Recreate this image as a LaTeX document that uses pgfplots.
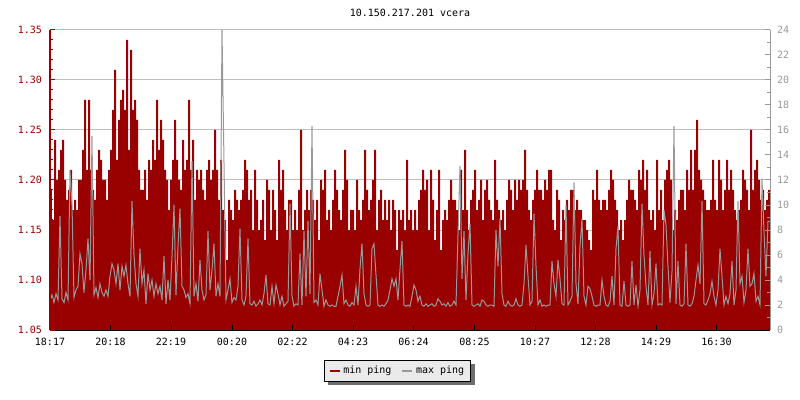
\documentclass[border=0pt]{standalone}
\usepackage{fontspec}
\setmainfont{DejaVu Sans Mono}
\setmonofont{DejaVu Sans Mono}
\usepackage{pgfplots}
\usepackage{pgfplotstable}
\pgfplotsset{compat=1.18}

\definecolor{pingred}{RGB}{153,0,0}
\definecolor{pinggray}{RGB}{153,153,153}
\definecolor{gridgray}{RGB}{190,190,190}
\definecolor{legfill}{RGB}{234,234,234}
\definecolor{shadowgray}{RGB}{110,110,110}

\pgfdeclarelayer{bg}
\pgfsetlayers{bg,main}

% one row every 4 minutes from 18:17, min ping (left scale) and max ping (right scale)
\pgfplotstableread[row sep=\\]{
minp maxp\\
1.19 2.3\\ 1.16 2.8\\ 1.24 2.2\\ 1.20 2.9\\ 1.21 2.4\\ 1.23 9.1\\ 1.24 2.5\\ 1.20 2.2\\ 1.18 3.0\\ 1.19 2.4\\
1.21 12.8\\ 1.17 10.0\\ 1.18 2.6\\ 1.17 3.2\\ 1.20 3.5\\ 1.20 6.1\\ 1.23 5.3\\ 1.28 3.0\\ 1.21 4.8\\ 1.28 7.3\\
1.21 4.0\\ 1.19 15.5\\ 1.18 2.8\\ 1.21 3.4\\ 1.23 2.6\\ 1.22 3.7\\ 1.20 3.0\\ 1.20 2.7\\ 1.18 3.2\\ 1.21 2.7\\
1.23 4.3\\ 1.27 5.3\\ 1.31 4.8\\ 1.22 3.7\\ 1.26 5.3\\ 1.28 3.2\\ 1.29 5.1\\ 1.27 4.3\\ 1.34 5.2\\ 1.23 3.7\\
1.33 2.7\\ 1.27 10.3\\ 1.28 6.0\\ 1.26 3.7\\ 1.21 2.7\\ 1.19 6.5\\ 1.19 3.7\\ 1.21 4.8\\ 1.18 2.1\\ 1.22 4.5\\
1.21 3.2\\ 1.24 4.0\\ 1.22 2.7\\ 1.28 3.7\\ 1.23 2.9\\ 1.26 3.5\\ 1.24 2.4\\ 1.21 5.9\\ 1.20 2.1\\ 1.17 4.0\\
1.20 2.4\\ 1.22 5.9\\ 1.26 10.0\\ 1.22 2.8\\ 1.20 6.7\\ 1.19 9.7\\ 1.24 3.5\\ 1.21 3.2\\ 1.22 2.6\\ 1.28 2.9\\
1.21 2.1\\ 1.24 13.5\\ 1.18 2.7\\ 1.21 3.7\\ 1.20 2.3\\ 1.21 5.6\\ 1.19 3.2\\ 1.18 2.4\\ 1.21 2.8\\ 1.22 7.9\\
1.20 3.2\\ 1.21 4.8\\ 1.25 6.9\\ 1.21 2.7\\ 1.18 3.7\\ 1.22 2.7\\ 1.17 24.0\\ 1.16 13.4\\ 1.12 2.4\\ 1.18 3.2\\
1.17 4.1\\ 1.16 2.2\\ 1.19 2.6\\ 1.18 2.4\\ 1.17 3.5\\ 1.18 8.1\\ 1.19 2.4\\ 1.22 2.0\\ 1.21 2.7\\ 1.18 7.3\\
1.19 2.1\\ 1.15 2.0\\ 1.21 2.3\\ 1.18 1.9\\ 1.15 2.1\\ 1.16 2.4\\ 1.18 2.0\\ 1.14 2.9\\ 1.20 4.4\\ 1.19 2.1\\
1.15 2.0\\ 1.19 3.5\\ 1.17 2.1\\ 1.14 3.6\\ 1.22 2.9\\ 1.19 2.0\\ 1.21 2.7\\ 1.17 1.9\\ 1.15 2.1\\ 1.18 2.3\\
1.18 10.1\\ 1.15 2.7\\ 1.17 1.9\\ 1.15 2.1\\ 1.19 2.0\\ 1.25 6.1\\ 1.15 2.0\\ 1.17 7.9\\ 1.19 2.7\\ 1.17 8.7\\
1.19 2.9\\ 1.18 16.3\\ 1.16 2.2\\ 1.18 2.4\\ 1.14 2.0\\ 1.20 4.5\\ 1.19 3.2\\ 1.21 1.9\\ 1.16 2.4\\ 1.17 2.0\\
1.15 1.9\\ 1.18 2.0\\ 1.21 1.9\\ 1.19 1.9\\ 1.17 2.7\\ 1.16 3.5\\ 1.19 4.4\\ 1.23 2.1\\ 1.20 2.4\\ 1.15 2.0\\
1.17 1.9\\ 1.17 2.2\\ 1.15 2.0\\ 1.20 3.5\\ 1.17 2.0\\ 1.16 4.9\\ 1.18 6.9\\ 1.23 2.9\\ 1.19 2.0\\ 1.17 1.9\\
1.18 2.0\\ 1.20 6.5\\ 1.23 6.9\\ 1.15 4.4\\ 1.18 2.0\\ 1.19 1.9\\ 1.16 2.0\\ 1.18 1.9\\ 1.16 2.1\\ 1.18 2.4\\
1.15 3.2\\ 1.18 4.1\\ 1.17 3.5\\ 1.13 4.1\\ 1.17 2.4\\ 1.16 4.9\\ 1.17 7.1\\ 1.15 2.0\\ 1.22 1.9\\ 1.16 2.0\\
1.17 1.9\\ 1.15 2.7\\ 1.17 3.6\\ 1.15 3.2\\ 1.18 2.3\\ 1.19 2.7\\ 1.21 2.0\\ 1.19 1.9\\ 1.20 2.1\\ 1.15 1.9\\
1.21 2.0\\ 1.18 2.1\\ 1.14 1.9\\ 1.17 2.0\\ 1.21 2.5\\ 1.13 2.3\\ 1.16 2.0\\ 1.17 2.1\\ 1.16 1.9\\ 1.18 2.2\\
1.20 1.9\\ 1.18 2.0\\ 1.18 2.3\\ 1.17 2.0\\ 1.15 7.6\\ 1.21 13.1\\ 1.17 4.1\\ 1.23 7.9\\ 1.17 2.4\\ 1.15 6.1\\
1.18 8.5\\ 1.19 2.0\\ 1.21 1.9\\ 1.17 2.0\\ 1.18 2.1\\ 1.20 1.9\\ 1.16 2.4\\ 1.19 2.3\\ 1.20 2.0\\ 1.18 1.9\\
1.17 2.0\\ 1.16 2.0\\ 1.22 1.9\\ 1.18 8.0\\ 1.17 5.1\\ 1.16 8.9\\ 1.17 2.9\\ 1.15 2.0\\ 1.18 1.9\\ 1.20 2.3\\
1.19 2.0\\ 1.17 1.9\\ 1.20 2.0\\ 1.18 2.5\\ 1.20 2.0\\ 1.19 1.9\\ 1.20 2.0\\ 1.23 3.7\\ 1.19 6.8\\ 1.17 4.3\\
1.16 2.0\\ 1.18 2.3\\ 1.19 9.3\\ 1.21 5.1\\ 1.19 2.0\\ 1.19 2.4\\ 1.18 1.9\\ 1.20 2.0\\ 1.19 1.9\\ 1.21 2.0\\
1.21 2.0\\ 1.16 5.5\\ 1.15 3.7\\ 1.19 2.7\\ 1.18 5.6\\ 1.14 4.1\\ 1.17 2.1\\ 1.16 2.0\\ 1.18 10.0\\ 1.17 2.0\\
1.19 2.3\\ 1.19 2.7\\ 1.17 11.8\\ 1.18 3.7\\ 1.17 2.1\\ 1.17 6.7\\ 1.16 8.9\\ 1.16 2.7\\ 1.15 2.0\\ 1.14 3.5\\
1.13 3.3\\ 1.19 2.7\\ 1.18 2.0\\ 1.21 1.9\\ 1.18 2.0\\ 1.17 2.0\\ 1.18 4.0\\ 1.18 2.7\\ 1.17 2.0\\ 1.19 1.9\\
1.21 2.3\\ 1.20 4.3\\ 1.18 2.0\\ 1.17 6.5\\ 1.15 8.3\\ 1.16 2.0\\ 1.14 1.9\\ 1.16 3.9\\ 1.18 2.0\\ 1.20 1.9\\
1.19 2.0\\ 1.19 5.5\\ 1.18 2.0\\ 1.17 3.6\\ 1.21 1.9\\ 1.20 3.2\\ 1.22 10.1\\ 1.19 6.0\\ 1.21 3.5\\ 1.17 2.0\\
1.16 6.3\\ 1.17 2.0\\ 1.15 2.9\\ 1.22 5.3\\ 1.17 2.0\\ 1.19 2.1\\ 1.16 2.0\\ 1.20 9.6\\ 1.21 8.4\\ 1.22 5.1\\
1.20 2.2\\ 1.15 4.7\\ 1.17 16.3\\ 1.16 2.1\\ 1.18 5.5\\ 1.19 2.0\\ 1.19 1.9\\ 1.17 2.1\\ 1.21 6.9\\ 1.19 2.0\\
1.23 1.9\\ 1.19 2.1\\ 1.23 2.7\\ 1.26 4.0\\ 1.21 5.2\\ 1.20 3.7\\ 1.19 10.3\\ 1.18 2.1\\ 1.17 2.0\\ 1.17 2.4\\
1.18 2.9\\ 1.22 3.9\\ 1.18 2.7\\ 1.17 2.0\\ 1.22 3.2\\ 1.20 6.5\\ 1.17 4.3\\ 1.19 2.0\\ 1.22 2.7\\ 1.19 2.1\\
1.21 2.9\\ 1.19 5.5\\ 1.17 2.0\\ 1.16 3.2\\ 1.17 10.3\\ 1.18 3.7\\ 1.21 4.3\\ 1.20 2.2\\ 1.19 3.2\\ 1.17 6.5\\
1.25 3.5\\ 1.19 3.7\\ 1.21 4.5\\ 1.22 2.3\\ 1.20 2.7\\ 1.18 2.0\\ 1.19 12.1\\ 1.17 7.9\\ 1.18 4.3\\ 1.19 8.7\\
1.19 8.7\\
}\pingdata

\pgfplotsset{
  pingbase/.style={
    scale only axis, width=540pt, height=225pt,
    xmin=0, xmax=1440,
    tick align=inside,
    major tick length=3.75pt, minor tick length=2.25pt,
    tick style={line width=0.75pt},
    axis line style={line width=0.75pt, -},
    tick label style={font=\fontsize{7.5}{9}\selectfont},
    /pgf/number format/assume math mode=true,
  },
}

\begin{document}
\begin{tikzpicture}
% grid and the min ping area
\begin{axis}[pingbase, name=ax,
  ymin=1.05, ymax=1.35,
  ytick={1.05,1.1,1.15,1.2,1.25,1.3,1.35}, yticklabels={},
  xtick=\empty,
  ymajorgrids, grid style={gridgray, line width=0.75pt},
  axis line style={draw=none}, tick style={draw=none},
]
\addplot[const plot, fill=pingred, draw=none] table[x expr=\coordindex*4, y=minp] {\pingdata} \closedcycle;
\end{axis}

% max ping, right scale, time axis, legend
\begin{axis}[pingbase, axis on top,
  ymin=0, ymax=24, ytick={0,2,...,24}, minor y tick num=1,
  axis y line*=right, axis x line*=bottom,
  ytick pos=right, yticklabel pos=right, xtick pos=bottom, xticklabel pos=bottom,
  y axis line style={draw=pinggray}, x axis line style={draw=black},
  ytick style={draw=pinggray}, xtick style={draw=black},
  yticklabel style={pinggray, xshift=1.8pt},
  xtick={0,121,242,364,485,606,727,849,970,1091,1212,1333},
  xticklabels={18:17,20:18,22:19,00:20,02:22,04:23,06:24,08:25,10:27,12:28,14:29,16:30},
  xticklabel style={anchor=base, yshift=-11.25pt},
  legend columns=2,
  legend image code/.code={\draw[#1] (0pt,0pt) -- (7.5pt,0pt);},
  legend style={name=leg, at={(0.483,-0.137)}, anchor=center, draw=black, fill=legfill,
    line width=0.75pt, font=\fontsize{7.5}{9}\selectfont,
    inner xsep=3pt, inner ysep=2pt,
    /tikz/every even column/.append style={column sep=5.5pt}},
]
\addlegendimage{pingred, line width=1.5pt}
\addlegendentry{min ping}
\addlegendimage{pinggray, line width=1.5pt}
\addlegendentry{max ping}
\addplot[sharp plot, pinggray, line width=0.75pt, forget plot] table[x expr=\coordindex*4, y=maxp] {\pingdata};
\end{axis}

% left scale and title
\begin{axis}[pingbase, axis on top,
  ymin=1.05, ymax=1.35,
  ytick={1.05,1.1,1.15,1.2,1.25,1.3,1.35}, minor y tick num=4,
  axis y line*=left, axis x line=none, xtick=\empty,
  ytick pos=left, yticklabel pos=left,
  y axis line style={draw=pingred}, ytick style={draw=pingred},
  yticklabel style={pingred, xshift=-2.5pt,
    /pgf/number format/fixed, /pgf/number format/fixed zerofill, /pgf/number format/precision=2},
  title={10.150.217.201 vcera},
  title style={font=\fontsize{7.5}{9}\selectfont, at={(0.5,1)}, anchor=base, yshift=4pt},
]
\end{axis}

% legend shadow
\begin{pgfonlayer}{bg}
\fill[shadowgray] ([shift={(3pt,-2.5pt)}]leg.south west) rectangle ([shift={(3pt,-2.5pt)}]leg.north east);
\end{pgfonlayer}

\pgfresetboundingbox
\path[use as bounding box] ([shift={(-37.5pt,-52.5pt)}]ax.south west) rectangle ([shift={(562.5pt,247.5pt)}]ax.south west);
\end{tikzpicture}
\end{document}
